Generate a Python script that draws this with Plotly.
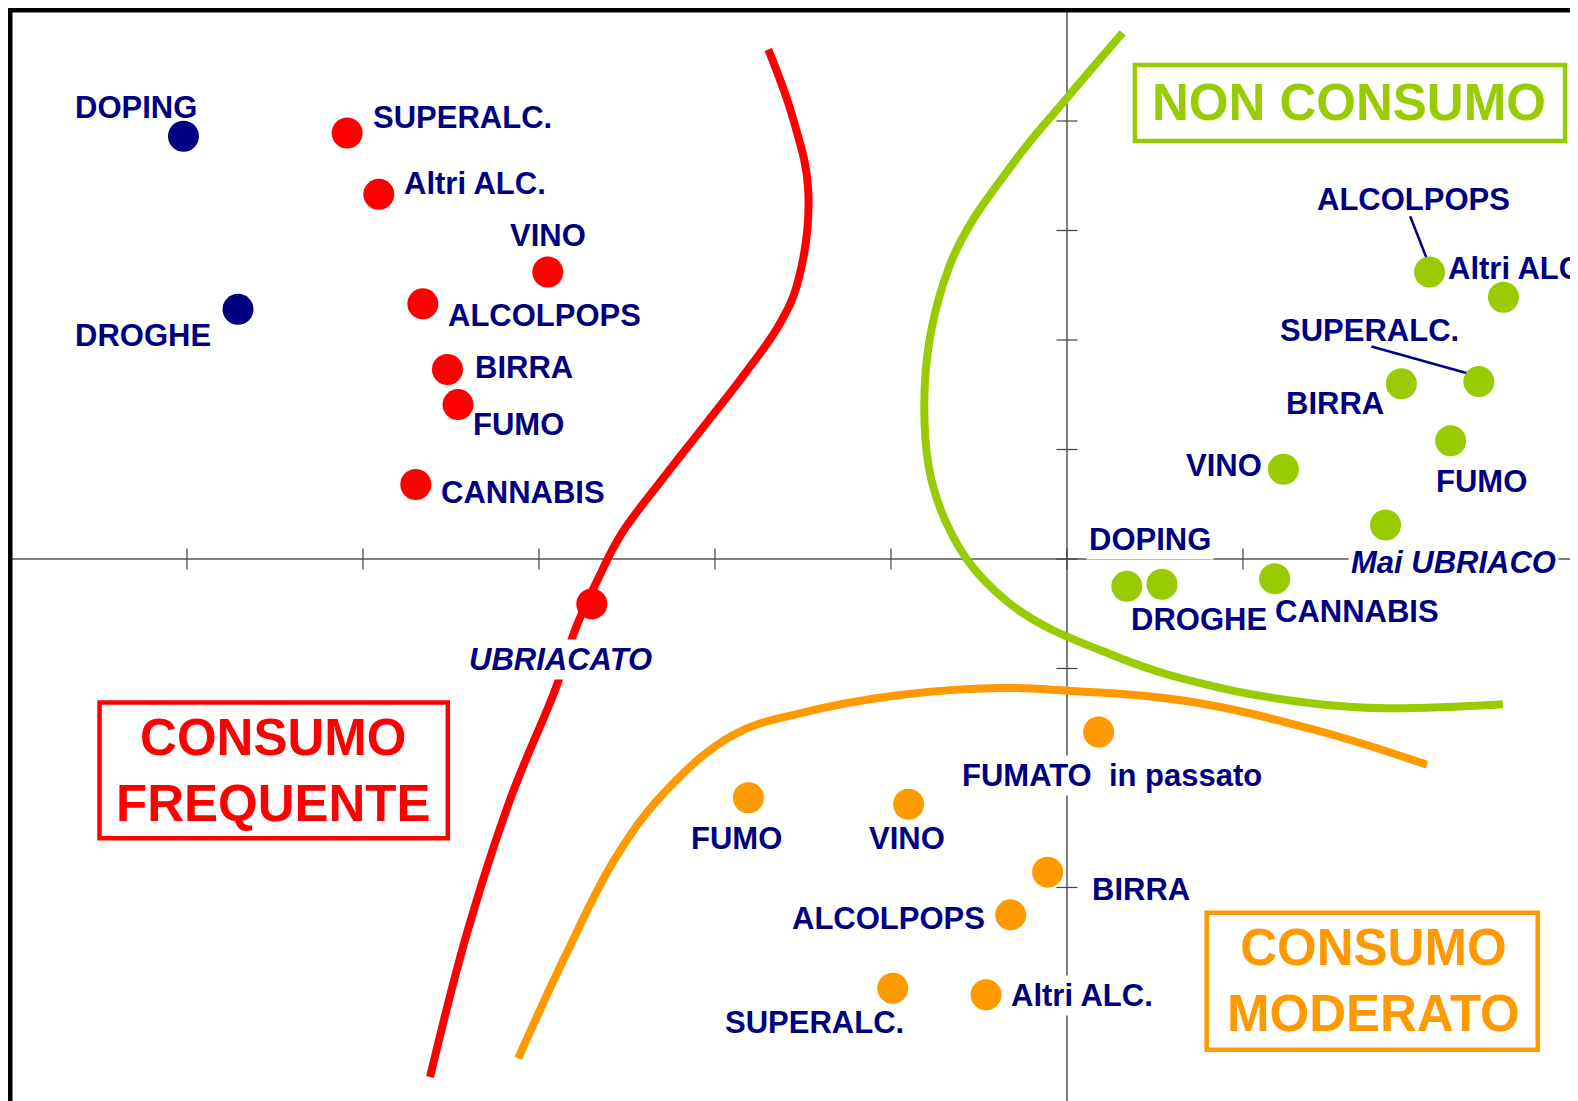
import plotly.graph_objects as go

BLU = "#000080"
ROSSO = "#FF0000"
VERDE = "#99CC00"
ARANCIO = "#FF9900"

# punti del piano fattoriale
blu_nomi = ["DOPING", "DROGHE"]
blu_x = [-5.02, -4.71]
blu_y = [3.86, 2.28]

rossi_nomi = ["SUPERALC.", "Altri ALC.", "VINO", "ALCOLPOPS", "BIRRA", "FUMO", "CANNABIS", "UBRIACATO"]
rossi_x = [-4.09, -3.91, -2.95, -3.66, -3.52, -3.46, -3.70, -2.70]
rossi_y = [3.89, 3.33, 2.62, 2.33, 1.73, 1.41, 0.68, -0.41]

verdi_nomi = ["ALCOLPOPS", "Altri ALC.", "SUPERALC.", "BIRRA", "FUMO", "VINO",
              "Mai UBRIACO", "CANNABIS", "DOPING", "DROGHE"]
verdi_x = [2.06, 2.48, 2.34, 1.90, 2.18, 1.23, 1.81, 1.18, 0.34, 0.54]
verdi_y = [2.62, 2.39, 1.62, 1.60, 1.08, 0.82, 0.31, -0.18, -0.25, -0.23]

arancio_nomi = ["FUMATO\u00a0 in passato", "FUMO", "VINO", "BIRRA", "ALCOLPOPS", "SUPERALC.", "Altri ALC."]
arancio_x = [0.18, -1.81, -0.90, -0.11, -0.32, -0.99, -0.46]
arancio_y = [-1.58, -2.18, -2.24, -2.86, -3.25, -3.92, -3.98]

# posizione delle etichette (x, y, ancoraggio)
blu_etich = [(-5.63, 4.12, "left"), (-5.63, 2.04, "left")]
rossi_etich = [(-3.94, 4.03, "left"), (-3.76, 3.43, "left"), (-3.16, 2.95, "left"),
               (-3.51, 2.22, "left"), (-3.36, 1.75, "left"), (-3.37, 1.23, "left"),
               (-3.55, 0.61, "left"), (-3.39, -0.92, "left")]
verdi_etich = [(1.97, 3.28, "center"), (2.17, 2.65, "left"), (1.72, 2.09, "center"),
               (1.25, 1.42, "left"), (2.10, 0.71, "left"), (0.68, 0.85, "left"),
               (1.62, -0.03, "left"), (1.19, -0.48, "left"), (0.13, 0.18, "left"),
               (0.37, -0.55, "left")]
arancio_etich = [(-0.59, -1.98, "left"), (-2.13, -2.55, "left"), (-1.12, -2.55, "left"),
                 (0.15, -3.02, "left"), (-0.47, -3.28, "right"), (-1.94, -4.23, "left"),
                 (-0.31, -3.99, "left")]

corsivi = ["UBRIACATO", "Mai UBRIACO"]
con_sfondo = ["UBRIACATO", "Mai UBRIACO", "DOPING_v", "FUMATO\u00a0 in passato", "Altri ALC._a"]

# linee di richiamo (etichetta -> punto)
richiami_x = [[1.95, 2.05], [1.73, 2.29]]
richiami_y = [[3.13, 2.72], [1.94, 1.69]]

# curve di separazione dei gruppi
curva_rossa_x = [-1.697, -1.555, -1.470, -1.527, -1.631, -1.830, -2.051, -2.307, -2.534,
                 -2.670, -2.795, -2.898, -3.165, -3.409, -3.619]
curva_rossa_y = [4.652, 4.014, 3.361, 2.543, 2.151, 1.693, 1.236, 0.712, 0.223,
                 -0.201, -0.648, -1.151, -2.201, -3.416, -4.731]
curva_verde_x = [0.316, 0.000, -0.305, -0.665, -0.811, -0.693, -0.343, 0.286, 0.858,
                 1.434, 1.817, 2.477]
curva_verde_y = [4.804, 4.210, 3.615, 2.685, 1.397, 0.356, -0.384, -0.895, -1.172,
                 -1.326, -1.363, -1.326]
curva_arancio_x = [-3.118, -2.843, -2.558, -2.274, -1.896, -1.517, -0.949, -0.381, 0.000,
                   0.669, 1.432, 2.045]
curva_arancio_y = [-4.560, -3.601, -2.712, -2.110, -1.607, -1.409, -1.242, -1.178, -1.203,
                   -1.295, -1.571, -1.879]

tacche_x = [-5, -4, -3, -2, -1, 0, 1, 2]
tacche_y = [4, 3, 2, 1, 0, -1, -2, -3, -4]

fig = go.Figure()

for cx, cy, col in [(curva_rossa_x, curva_rossa_y, ROSSO),
                    (curva_verde_x, curva_verde_y, VERDE),
                    (curva_arancio_x, curva_arancio_y, ARANCIO)]:
    fig.add_trace(go.Scatter(x=cx, y=cy, mode="lines",
                             line=dict(color=col, width=8, shape="spline", smoothing=1.1),
                             hoverinfo="skip"))

fig.add_trace(go.Scatter(x=tacche_x, y=[0] * len(tacche_x), mode="markers",
                         marker=dict(symbol="line-ns", size=15, line=dict(color="#444444", width=1.2)),
                         hoverinfo="skip"))
fig.add_trace(go.Scatter(x=[0] * len(tacche_y), y=tacche_y, mode="markers",
                         marker=dict(symbol="line-ew", size=15, line=dict(color="#444444", width=1.2)),
                         hoverinfo="skip"))

for rx, ry in zip(richiami_x, richiami_y):
    fig.add_trace(go.Scatter(x=rx, y=ry, mode="lines", line=dict(color=BLU, width=2.5), hoverinfo="skip"))

gruppi = [
    (blu_nomi, blu_x, blu_y, blu_etich, BLU, "_b"),
    (rossi_nomi, rossi_x, rossi_y, rossi_etich, ROSSO, "_r"),
    (verdi_nomi, verdi_x, verdi_y, verdi_etich, VERDE, "_v"),
    (arancio_nomi, arancio_x, arancio_y, arancio_etich, ARANCIO, "_a"),
]
spost = {"left": -4, "right": 4, "center": 0}

for nomi, xs, ys, etich, col, suff in gruppi:
    fig.add_trace(go.Scatter(x=xs, y=ys, mode="markers", text=nomi,
                             marker=dict(color=col, size=31), hoverinfo="text"))
    for nome, (lx, ly, anc) in zip(nomi, etich):
        sfondo = nome in con_sfondo or (nome + suff) in con_sfondo
        fig.add_annotation(x=lx, y=ly, text=nome, showarrow=False, xanchor=anc, yanchor="middle",
                           xshift=spost[anc],
                           bgcolor="white" if sfondo else "rgba(0,0,0,0)", borderpad=2,
                           font=dict(family="Liberation Sans, Arial, sans-serif", size=31, color=BLU,
                                     weight="bold", style="italic" if nome in corsivi else "normal"))

# riquadri dei gruppi
riquadri = [
    ("NON CONSUMO", VERDE, 0.386, 2.830, 3.817, 4.511, 1.60, 4.17),
    ("CONSUMO<br>FREQUENTE", ROSSO, -5.497, -3.518, -2.551, -1.311, -4.51, -1.93),
    ("CONSUMO<br>MODERATO", ARANCIO, 0.794, 2.675, -4.481, -3.231, 1.74, -3.85),
]
for testo, col, x0, x1, y0, y1, tx, ty in riquadri:
    fig.add_shape(type="rect", xref="x", yref="y", x0=x0, x1=x1, y0=y0, y1=y1,
                  line=dict(color=col, width=4.5))
    fig.add_annotation(x=tx, y=ty, text=testo, showarrow=False, xanchor="center", yanchor="middle",
                       font=dict(family="Liberation Sans, Arial, sans-serif",
                                 size=51, color=col, weight="bold"))

# cornice
fig.add_shape(type="rect", xref="paper", yref="paper", x0=2 / 1578, x1=1.2, y0=-0.2, y1=1 - 2 / 1101,
              line=dict(color="black", width=5))

fig.update_layout(
    width=1578, height=1101,
    margin=dict(l=0, r=0, t=0, b=0),
    paper_bgcolor="white", plot_bgcolor="white",
    showlegend=False,
    xaxis=dict(range=[-6.017, 2.949], showgrid=False, zeroline=True, zerolinecolor="#7f7f7f",
               zerolinewidth=1.5, showticklabels=False, ticks="", fixedrange=True),
    yaxis=dict(range=[-5.023, 5.032], showgrid=False, zeroline=True, zerolinecolor="#7f7f7f",
               zerolinewidth=1.5, showticklabels=False, ticks="", fixedrange=True),
)

fig.write_html("out.html")
